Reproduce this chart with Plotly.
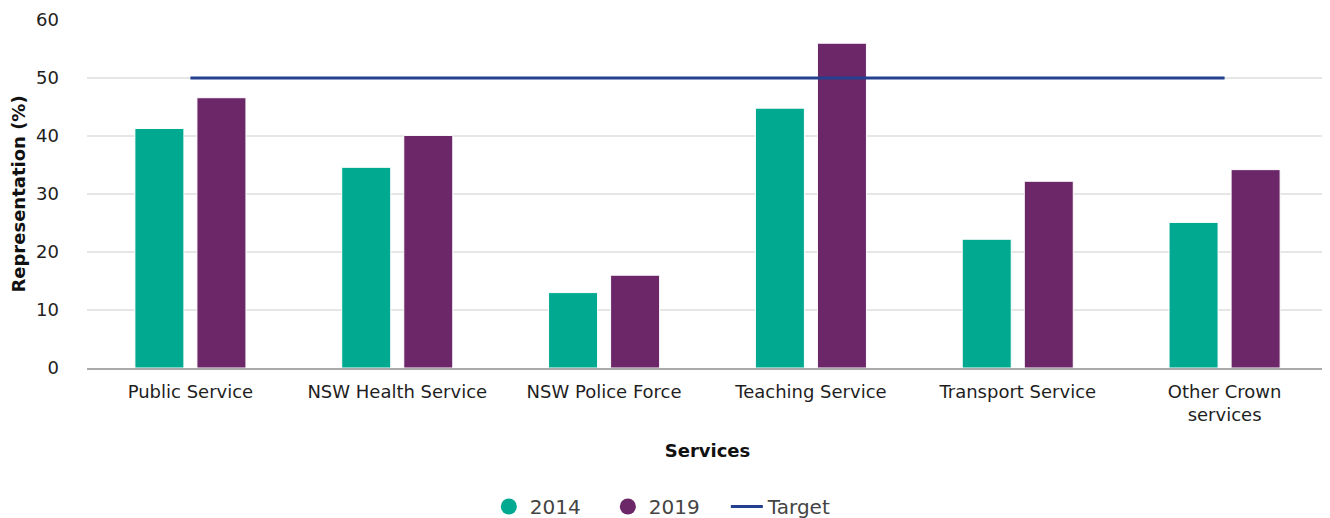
import plotly.graph_objects as go

services = ["Public Service", "NSW Health Service", "NSW Police Force",
            "Teaching Service", "Transport Service", "Other Crown<br>services"]
rep_2014 = [41.3, 34.6, 13.0, 44.8, 22.2, 25.1]
rep_2019 = [46.6, 40.1, 16.0, 56.0, 32.2, 34.2]
target = [50, 50, 50, 50, 50, 50]

TEAL = "#00A990"
PURPLE = "#6C2769"
NAVY = "#24408E"
FONT = "DejaVu Sans"

fig = go.Figure()

fig.add_trace(go.Bar(
    x=services, y=rep_2014, name="2014",
    marker=dict(color=TEAL, line=dict(color="white", width=1)),
    showlegend=False,
))
fig.add_trace(go.Bar(
    x=services, y=rep_2019, name="2019",
    marker=dict(color=PURPLE, line=dict(color="white", width=1)),
    showlegend=False,
))
fig.add_trace(go.Scatter(
    x=services, y=target, name="Target", mode="lines",
    line=dict(color=NAVY, width=3), showlegend=False,
))

# legend entries (circle markers for the bar series)
for name, col in [("2014", TEAL), ("2019", PURPLE)]:
    fig.add_trace(go.Scatter(
        x=[None], y=[None], mode="markers", name=name,
        marker=dict(color=col, size=20, symbol="circle"),
    ))
fig.add_trace(go.Scatter(
    x=[None], y=[None], mode="lines", name="Target",
    line=dict(color=NAVY, width=3),
))

# page body has an 8px offset, margins compensate for it
fig.update_layout(
    width=1330, height=518,
    margin=dict(l=79, r=10, t=12, b=158, autoexpand=False),
    plot_bgcolor="white", paper_bgcolor="white",
    font=dict(family=FONT, size=18, color="#1e1e1e"),
    barmode="group", bargap=0.40, bargroupgap=0.21,
    legend=dict(
        orientation="h", xref="container", yref="container",
        x=0.495, xanchor="center", y=0.0, yanchor="bottom",
        font=dict(size=20, color="#444444"),
        itemwidth=32, entrywidth=72, tracegroupgap=0,
    ),
)

fig.update_xaxes(
    title=dict(text="<b>Services</b>", font=dict(size=18, color="#111111"), standoff=20),
    showline=True, linecolor="#aaaaaa", linewidth=2,
    ticks="", tickfont=dict(size=18, color="#1e1e1e"),
    ticklabelstandoff=6, automargin=False,
)
fig.update_yaxes(
    title=dict(text="<b>Representation (%)</b>", font=dict(size=18, color="#111111"), standoff=8),
    range=[0, 60], dtick=10,
    showgrid=True, gridcolor="#e6e6e6", gridwidth=1.5,
    zeroline=False, ticks="", tickfont=dict(size=18, color="#1e1e1e"),
    ticklabelstandoff=27, automargin=False,
)

fig.write_html("out.html")
